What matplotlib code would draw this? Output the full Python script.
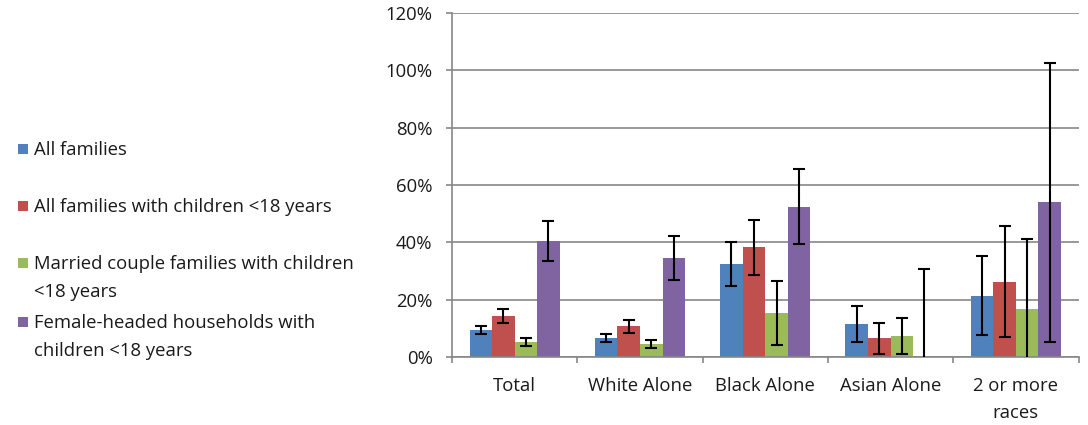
import matplotlib
matplotlib.use("Agg")
import matplotlib.pyplot as plt
from matplotlib.patches import Rectangle
import numpy as np

plt.rcParams['font.family'] = ['Open Sans', 'DejaVu Sans']

categories = ["Total", "White Alone", "Black Alone", "Asian Alone", "2 or more\nraces"]
series_names = [
    "All families",
    "All families with children <18 years",
    "Married couple families with children\n<18 years",
    "Female-headed households with\nchildren <18 years",
]
all_families = [9.4, 6.7, 32.5, 11.6, 21.5]
all_families_err = [1.4, 1.3, 7.6, 6.3, 13.9]
with_children = [14.4, 10.8, 38.3, 6.7, 26.3]
with_children_err = [2.3, 2.2, 9.5, 5.4, 19.3]
married = [5.3, 4.6, 15.3, 7.5, 16.7]
married_err = [1.5, 1.4, 11.1, 6.2, 24.4]
female_headed = [40.6, 34.6, 52.5, 0.0, 54.0]
female_headed_err = [7.0, 7.8, 13.1, 30.9, 48.6]
yticks = [0, 20, 40, 60, 80, 100, 120]

values = [all_families, with_children, married, female_headed]
errors = [all_families_err, with_children_err, married_err, female_headed_err]
colors = ["#4F81BD", "#C0504D", "#9BBB59", "#8064A2"]

FS = 13.3
LS = 1.68
fig = plt.figure(figsize=(10.88, 4.25), dpi=100)
ax = fig.add_axes([452 / 1088, 1 - 357.3 / 425, (1078.5 - 452) / 1088, (357.3 - 12.7) / 425])

x = np.arange(len(categories))
bw = 0.18
grid_color = "#878787"
for i, (vals, errs, col) in enumerate(zip(values, errors, colors)):
    pos = x + (i - 1.5) * bw
    ax.bar(pos, vals, width=bw, color=col, edgecolor="none", zorder=2)
    ax.errorbar(pos, vals, yerr=errs, fmt="none", ecolor="black",
                elinewidth=1.5, capsize=4.2, capthick=1.5, zorder=3)

ax.set_xlim(-0.5, len(categories) - 0.5)
ax.set_ylim(0, 120)
ax.set_yticks(yticks)
ax.set_yticklabels([f"{t}%" for t in yticks])
ax.yaxis.grid(True, color=grid_color, linewidth=1.2)
ax.set_axisbelow(True)

ax.set_xticks(np.arange(len(categories) + 1) - 0.5)
ax.set_xticklabels([])
ax.set_xticks(x, minor=True)
ax.set_xticklabels(categories, minor=True, fontsize=FS, linespacing=LS, va="top",
                   color="#1a1a1a")
ax.tick_params(axis="x", which="major", length=4, width=1.2, color=grid_color)
ax.tick_params(axis="x", which="minor", length=0, pad=14)
ax.tick_params(axis="y", length=4, width=1.2, color=grid_color, pad=10, labelsize=FS,
               labelcolor="#1a1a1a")

for s in ["top", "right"]:
    ax.spines[s].set_visible(False)
for s in ["left", "bottom"]:
    ax.spines[s].set_color(grid_color)
    ax.spines[s].set_linewidth(1.2)

# Legend drawn manually to reproduce uneven spacing
legend_y = [149, 206, 263, 322]
for name, col, yc in zip(series_names, colors, legend_y):
    fig.patches.append(Rectangle((17.5 / 1088, 1 - (yc + 5) / 425), 10 / 1088, 10 / 425,
                                 transform=fig.transFigure, facecolor=col, edgecolor="none"))
    fig.text(34 / 1088, 1 - (yc - 8) / 425, name, fontsize=FS, va="top", ha="left",
             linespacing=LS, color="#1a1a1a")

fig.savefig("out.png", dpi=100)
